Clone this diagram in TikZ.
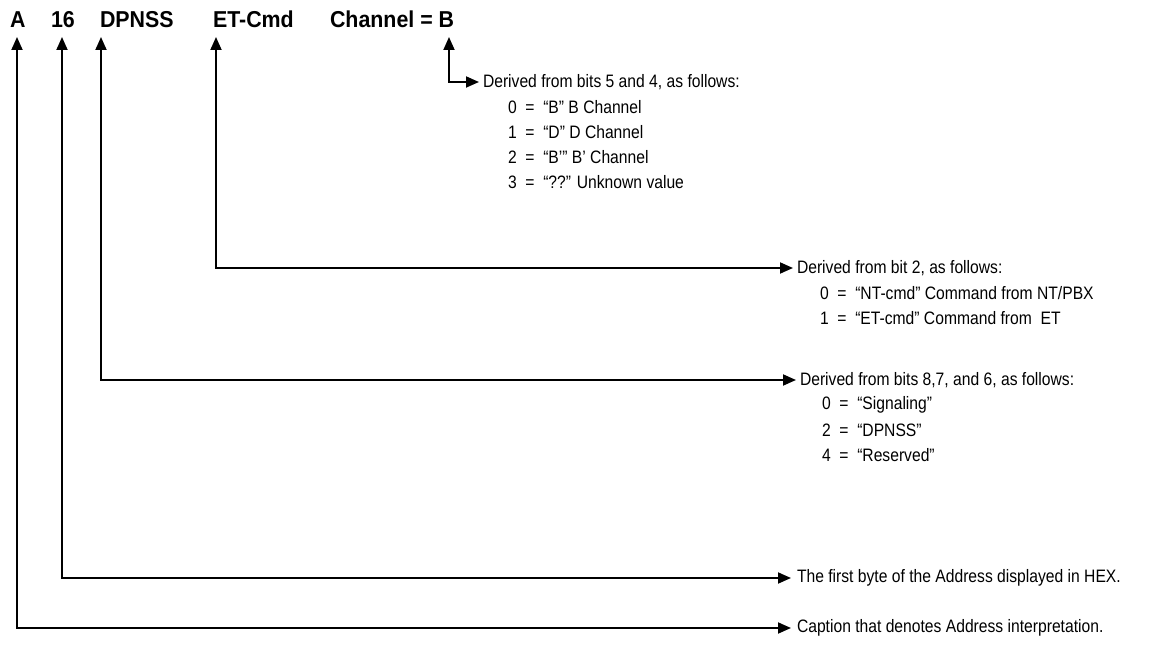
\documentclass[tikz,border=0pt]{standalone}
\usepackage{fontspec}
\setmainfont{Liberation Sans}
\newfontfamily\bodyfont{Liberation Sans}[FakeStretch=0.87]
\newfontfamily\labelfont{Liberation Sans}[FakeStretch=0.93]
\usetikzlibrary{arrows.meta}
\begin{document}
\begin{tikzpicture}[x=1pt,y=-1pt,
  every node/.style={inner sep=0pt, outer sep=0pt},
  lbl/.style={anchor=base west, font=\labelfont\fontsize{23}{26}\selectfont\bfseries},
  txt/.style={anchor=west, font=\bodyfont\fontsize{18}{20}\selectfont},
  conn/.style={line width=1.8pt, {Triangle[length=13pt,width=11pt]}-{Triangle[length=13pt,width=11pt]}}]
\useasboundingbox (0,0) rectangle (1152,652);
% top labels
\node[lbl] (A)  at (10,28)  {A};
\node[lbl] (N16) at (51,28) {16};
\node[lbl] (DP) at (100,28) {DPNSS};
\node[lbl] (ET) at (213,28) {ET-Cmd};
\node[lbl] (CH) at (330,28) {Channel = B};
% arrow tops
\coordinate (tA) at (17,37);
\coordinate (t16) at (62,37);
\coordinate (tDP) at (101,37);
\coordinate (tET) at (216,37);
\coordinate (tCH) at (449,37);
% descriptions
\node[txt] (hCH) at (483,82) {Derived from bits 5 and 4, as follows:};
\node[txt] (c0) at (508,107) {0 \ = \ “B” B Channel};
\node[txt] (c1) at (508,132) {1 \ = \ “D” D Channel};
\node[txt] (c2) at (508,157) {2 \ = \ “B’” B’ Channel};
\node[txt] (c3) at (508,182) {3 \ = \ “??” Unknown value};
\node[txt] (hET) at (797,268) {Derived from bit 2, as follows:};
\node[txt] (e0) at (820,293) {0 \ = \ “NT-cmd” Command from NT/PBX};
\node[txt] (e1) at (820,318) {1 \ = \ “ET-cmd” Command from \ ET};
\node[txt] (hDP) at (800,380) {Derived from bits 8,7, and 6, as follows:};
\node[txt] (d0) at (822,405) {0 \ = \ “Signaling”};
\node[txt] (d1) at (822,430) {2 \ = \ “DPNSS”};
\node[txt] (d2) at (822,455) {4 \ = \ “Reserved”};
\node[txt] (h16) at (797,578) {The first byte of the Address displayed in HEX.};
\node[txt] (hA) at (797,628) {Caption that denotes Address interpretation.};
% connectors
\draw[conn] (tCH) |- ([xshift=-4pt]hCH.west);
\draw[conn] (tET) |- ([xshift=-4pt]hET.west);
\draw[conn] (tDP) |- ([xshift=-4pt]hDP.west);
\draw[conn] (t16) |- ([xshift=-6pt]h16.west);
\draw[conn] (tA) |- ([xshift=-6pt]hA.west);
\end{tikzpicture}
\end{document}
